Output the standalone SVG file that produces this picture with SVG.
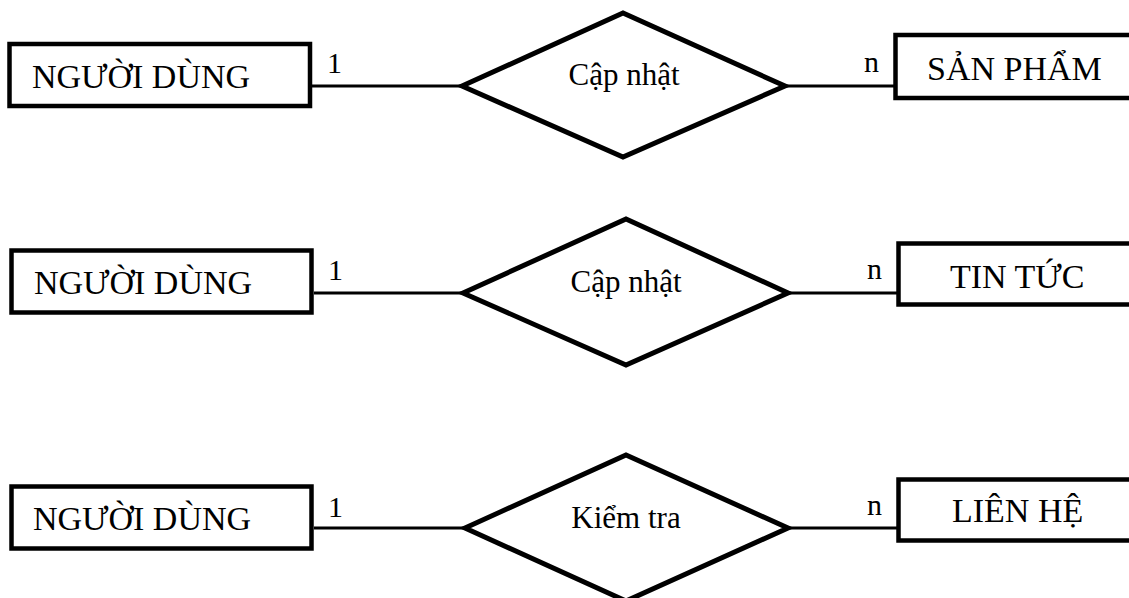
<svg xmlns="http://www.w3.org/2000/svg" width="1129" height="598" viewBox="0 0 1129 598">
  <style>
    .entity { fill: #fff; stroke: #000; stroke-width: 4.5; }
    .rel { fill: #fff; stroke: #000; stroke-width: 5; stroke-linejoin: miter; }
    .link { stroke: #000; stroke-width: 3; fill: none; }
    text { font-family: "Liberation Serif", "Times New Roman", serif; fill: #000; }
    .etext { font-size: 34px; }
    .rtext { font-size: 31px; text-anchor: middle; }
    .card { font-size: 30px; }
  </style>
  <rect width="1129" height="598" fill="#fff"/>

  <!-- connectors -->
  <g id="connectors">
    <line class="link" x1="312" y1="86" x2="462" y2="86"/>
    <line class="link" x1="785" y1="86" x2="895" y2="86"/>
    <line class="link" x1="314" y1="293" x2="463" y2="293"/>
    <line class="link" x1="788" y1="293" x2="898" y2="293"/>
    <line class="link" x1="314" y1="528" x2="465" y2="528"/>
    <line class="link" x1="788" y1="528" x2="898" y2="528"/>
    <text class="card" x="327" y="73">1</text>
    <text class="card" x="864" y="72">n</text>
    <text class="card" x="328" y="280">1</text>
    <text class="card" x="867" y="279">n</text>
    <text class="card" x="328" y="517">1</text>
    <text class="card" x="867" y="515">n</text>
  </g>

  <!-- row 1 -->
  <g id="nguoidung1">
    <rect class="entity" x="9.5" y="44" width="300.5" height="62"/>
    <text class="etext" x="32" y="88">NGƯỜI DÙNG</text>
  </g>
  <g id="capnhat1">
    <polygon class="rel" points="462,86 623,13 785,86 623,157"/>
    <text class="rtext" x="624" y="85">Cập nhật</text>
  </g>
  <g id="sanpham">
    <rect class="entity" x="895.5" y="35" width="240" height="63"/>
    <text class="etext" x="927" y="80">SẢN PHẨM</text>
  </g>

  <!-- row 2 -->
  <g id="nguoidung2">
    <rect class="entity" x="11.5" y="250.5" width="300" height="62"/>
    <text class="etext" x="34" y="294">NGƯỜI DÙNG</text>
  </g>
  <g id="capnhat2">
    <polygon class="rel" points="463,293 626,219 788,293 626,365"/>
    <text class="rtext" x="626" y="292">Cập nhật</text>
  </g>
  <g id="tintuc">
    <rect class="entity" x="898.5" y="243.5" width="240" height="61"/>
    <text class="etext" x="950" y="288">TIN TỨC</text>
  </g>

  <!-- row 3 -->
  <g id="nguoidung3">
    <rect class="entity" x="11.5" y="486.5" width="300" height="62"/>
    <text class="etext" x="33" y="530">NGƯỜI DÙNG</text>
  </g>
  <g id="kiemtra">
    <polygon class="rel" points="465,528 626,455 788,528 626,601"/>
    <text class="rtext" x="626" y="528">Kiểm tra</text>
  </g>
  <g id="lienhe">
    <rect class="entity" x="898.5" y="479.5" width="240" height="61"/>
    <text class="etext" x="952" y="522">LIÊN HỆ</text>
  </g>
</svg>
